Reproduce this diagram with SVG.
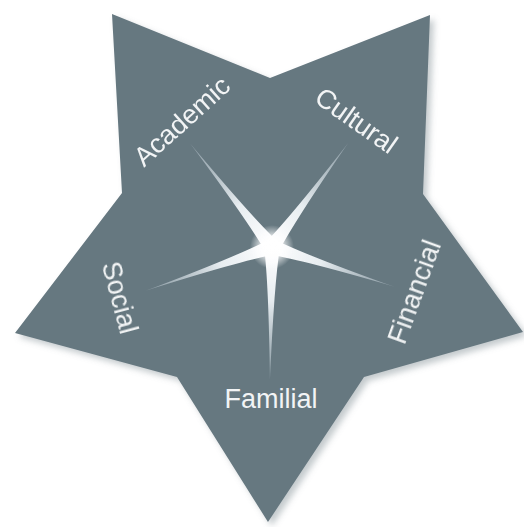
<svg xmlns="http://www.w3.org/2000/svg" width="524" height="527" viewBox="0 0 524 527">
  <defs>
    <filter id="shadow" x="-10%" y="-10%" width="125%" height="125%">
      <feDropShadow dx="4" dy="4" stdDeviation="3" flood-color="#7d8a90" flood-opacity="0.45"/>
    </filter>
    <filter id="soft" x="-5%" y="-5%" width="110%" height="110%">
      <feGaussianBlur stdDeviation="0.5"/>
    </filter>
    <linearGradient id="rayGrad" x1="0" y1="0" x2="1" y2="0">
      <stop offset="0" stop-color="#ffffff" stop-opacity="1"/>
      <stop offset="0.4" stop-color="#eef3f6" stop-opacity="0.95"/>
      <stop offset="1" stop-color="#c3d0d8" stop-opacity="0.4"/>
    </linearGradient>
    <radialGradient id="glow" cx="0.5" cy="0.5" r="0.5">
      <stop offset="0" stop-color="#ffffff" stop-opacity="1"/>
      <stop offset="0.5" stop-color="#ffffff" stop-opacity="0.75"/>
      <stop offset="1" stop-color="#ffffff" stop-opacity="0"/>
    </radialGradient>
  </defs>
  <style>
    .star { fill: #667880; }
    .ray { fill: url(#rayGrad); }
    .label { font-family: "Liberation Sans", Arial, sans-serif; font-size: 27px; fill: #f2f4f5; text-anchor: middle; }
  </style>
  <rect width="524" height="527" fill="#ffffff"/>
  <g id="star" filter="url(#shadow)">
    <polygon class="star" points="112,14 270,78 430,15 423,194 523,332 364,377 268,522 177,377 15,333 122,193"/>
  </g>
  <g id="rays" filter="url(#soft)">
    <path class="ray" transform="translate(272,247) rotate(-128.3)" d="M0,-8 Q35,-2.8 132,0 Q35,2.8 0,8 Z"/>
    <path class="ray" transform="translate(272,247) rotate(-53.8)" d="M0,-8 Q35,-2.8 129,0 Q35,2.8 0,8 Z"/>
    <path class="ray" transform="translate(272,247) rotate(18)" d="M0,-8 Q35,-2.8 129,0 Q35,2.8 0,8 Z"/>
    <path class="ray" transform="translate(272,247) rotate(160.9)" d="M0,-8 Q35,-2.8 134,0 Q35,2.8 0,8 Z"/>
    <path class="ray" transform="translate(272,247) rotate(90.9)" d="M0,-8 Q35,-2.8 133,0 Q35,2.8 0,8 Z"/>
    <circle cx="272" cy="247" r="22" fill="url(#glow)"/>
  </g>
  <g id="academic">
    <text class="label" transform="translate(188,128) rotate(-42)">Academic</text>
  </g>
  <g id="cultural">
    <text class="label" transform="translate(351,128) rotate(35)">Cultural</text>
  </g>
  <g id="financial">
    <text class="label" transform="translate(423,295) rotate(-70)">Financial</text>
  </g>
  <g id="familial">
    <text class="label" x="271" y="408">Familial</text>
  </g>
  <g id="social">
    <text class="label" transform="translate(111,300) rotate(75)">Social</text>
  </g>
</svg>
